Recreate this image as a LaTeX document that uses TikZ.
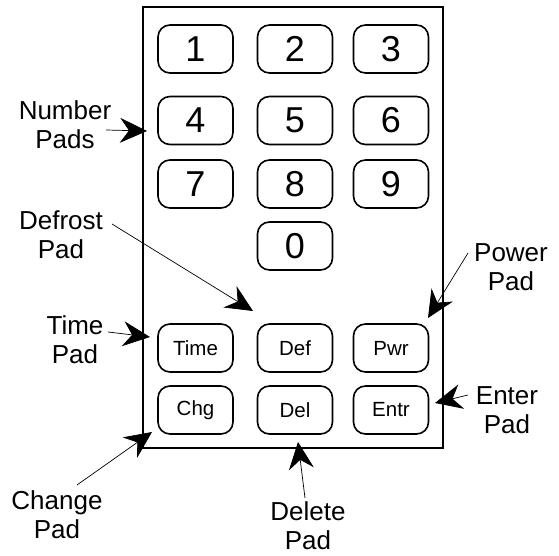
\documentclass[tikz,border=0pt]{standalone}
\usepackage{fontspec}
\setmainfont{Liberation Sans}
\usetikzlibrary{arrows.meta}
\tikzset{
  pad/.style={draw, line width=1.6pt, rounded corners=12pt, minimum width=75pt, minimum height=48pt, inner sep=0pt},
  digit/.style={pad, font=\fontsize{36}{36}\selectfont},
  word/.style={pad, font=\fontsize{20.5}{20.5}\selectfont},
  lbl/.style={align=center, font=\fontsize{26}{29}\selectfont, inner sep=0pt},
  ptr/.style={line width=0.7pt, -{Stealth[length=27pt,width=25pt,inset=9pt]}},
}
\begin{document}
\begin{tikzpicture}[x=1pt,y=-1pt]
\useasboundingbox (0,0) rectangle (559,556);
\node[draw, line width=2.4pt, minimum width=300pt, minimum height=441pt, inner sep=0pt] (panel) at (293,227.5) {};
% number pads
\node[digit] (k1) at (195.5,49) {1};
\node[digit] (k2) at (295,49) {2};
\node[digit] (k3) at (391,49) {3};
\node[digit] (k4) at (195.5,120.5) {4};
\node[digit] (k5) at (295,120.5) {5};
\node[digit] (k6) at (391,120.5) {6};
\node[digit] (k7) at (195.5,184) {7};
\node[digit] (k8) at (295,184) {8};
\node[digit] (k9) at (391,184) {9};
\node[digit] (k0) at (295,246) {0};
% function pads
\node[word] (time) at (195.5,348) {Time};
\node[word] (def) at (295,348) {Def};
\node[word] (pwr) at (391,348) {Pwr};
\node[word] (chg) at (195.5,410) {Chg};
\node[word] (del) at (295,410) {Del};
\node[word] (entr) at (391,410) {Entr};
% labels
\node[lbl] (lnum) at (65,125) {Number\\Pads};
\node[lbl] (ldef) at (61,235) {Defrost\\Pad};
\node[lbl] (lpwr) at (511,267) {Power\\Pad};
\node[lbl] (ltime) at (75,340) {Time\\Pad};
\node[lbl] (lent) at (507,410) {Enter\\Pad};
\node[lbl] (lchg) at (57,515) {Change\\Pad};
\node[lbl] (ldel) at (308,526) {Delete\\Pad};
% connector ends
\coordinate (snum) at (106,130);  \coordinate (tnum) at (147,131);
\coordinate (sdef) at (112,224);  \coordinate (tdef) at (253,311);
\coordinate (spwr) at (468,253);  \coordinate (tpwr) at (428,318);
\coordinate (stime) at (108,332); \coordinate (ttime) at (150,337);
\coordinate (sent) at (468,395);  \coordinate (tent) at (435,403);
\coordinate (schg) at (77,485);   \coordinate (tchg) at (152,432);
\coordinate (sdel) at (305,498);  \coordinate (tdel) at (298,442);
\draw[ptr] (snum) -- (tnum);
\draw[ptr] (sdef) -- (tdef);
\draw[ptr] (spwr) -- (tpwr);
\draw[ptr] (stime) -- (ttime);
\draw[ptr] (sent) -- (tent);
\draw[ptr] (schg) -- (tchg);
\draw[ptr] (sdel) -- (tdel);
\end{tikzpicture}
\end{document}
